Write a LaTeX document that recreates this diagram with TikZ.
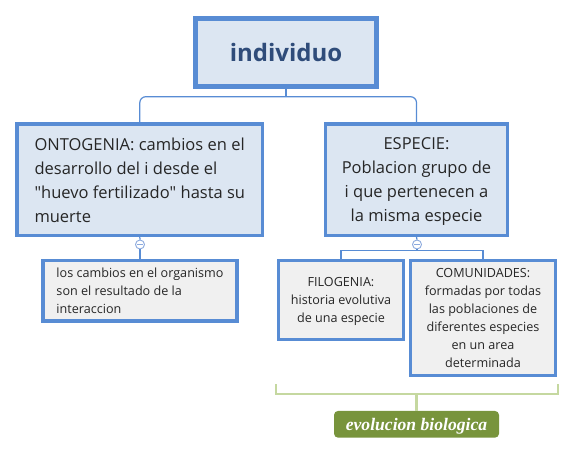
\documentclass[tikz,border=0pt]{standalone}
\usepackage{fontspec}
\setmainfont{Open Sans}
\newfontfamily\labelfont{Liberation Serif}
\definecolor{bordblue}{RGB}{88,140,212}
\definecolor{fillblue}{RGB}{220,230,242}
\definecolor{fillgrey}{RGB}{240,240,240}
\definecolor{txtdark}{RGB}{38,38,38}
\definecolor{rootblue}{RGB}{47,76,122}
\definecolor{minusblue}{RGB}{140,170,222}
\definecolor{brkgreen}{RGB}{197,216,160}
\definecolor{lblgreen}{RGB}{120,148,60}
\tikzset{
  rootbox/.style={draw=bordblue, line width=5.3pt, fill=fillblue, inner sep=0pt,
    minimum width=181.3pt, minimum height=68pt, text=rootblue, text depth=0pt,
    font=\fontsize{24}{28}\selectfont\bfseries},
  mainbox/.style={draw=bordblue, line width=3.3pt, fill=fillblue, inner sep=0pt,
    text=txtdark, text depth=0pt, font=\fontsize{16.5}{24}\selectfont},
  subbox/.style={draw=bordblue, line width=3.4pt, fill=fillgrey, inner sep=0pt,
    text=txtdark, text depth=0pt, font=\fontsize{12.6}{18}\selectfont},
  conn/.style={draw=bordblue, line width=1.2pt},
  minusnode/.style={circle, draw=minusblue, line width=0.9pt, fill=white, inner sep=0pt,
    minimum size=9pt,
    path picture={\draw[minusblue, line width=0.9pt]
      ([xshift=-2.6pt]path picture bounding box.center) --
      ([xshift=2.6pt]path picture bounding box.center);}},
  bracketline/.style={draw=brkgreen, line width=2.4pt},
  tagbox/.style={fill=lblgreen, rounded corners=4pt, inner sep=0pt,
    minimum width=165pt, minimum height=26.7pt, text=white, text depth=0pt,
    font=\fontsize{17.6}{20}\selectfont\labelfont\bfseries\itshape},
}
\begin{document}
\begin{tikzpicture}[x=1pt, y=-1pt]
\useasboundingbox (0,0) rectangle (575,454);

% nodes
\node[rootbox] (root) at (286,52.65) {individuo};
\node[mainbox, minimum width=245.7pt, minimum height=111.2pt, align=left]
  (onto) at (139.8,179.75)
  {ONTOGENIA: cambios en el\\desarrollo del i desde el\\\textquotedbl huevo fertilizado\textquotedbl{} hasta su\\muerte};
\node[mainbox, minimum width=181.7pt, minimum height=111.4pt, align=center]
  (espe) at (416.5,179.65)
  {ESPECIE:\\Poblacion grupo de\\i que pertenecen a\\la misma especie};
\node[subbox, minimum width=194pt, minimum height=60.3pt, align=left]
  (inter) at (140,290.85)
  {los cambios en el organismo\\son el resultado de la\\interaccion};
\node[subbox, minimum width=124.6pt, minimum height=78.6pt, align=center]
  (filo) at (341,300)
  {FILOGENIA:\\historia evolutiva\\de una especie};
\node[subbox, minimum width=144.6pt, minimum height=114.6pt, align=center]
  (comu) at (483,318)
  {COMUNIDADES:\\formadas por todas\\las poblaciones de\\diferentes especies\\en un area\\determinada};
\node[minusnode] (m1) at (140,244.5) {};
\node[minusnode] (m2) at (417,244.5) {};
\node[tagbox] (tag) at (416.5,424.3) {evolucion biologica};

% hub coordinates
\coordinate (hubtop) at (286,96.7);
\coordinate (hubesp) at (417,250.7);
\coordinate (brk) at (416.5,394);
\coordinate (brkl) at (275.7,384);
\coordinate (brkr) at (557.7,384);

% connectors
\draw[conn] (root.south) -- (hubtop);
\draw[conn, rounded corners=6pt] (onto.north) |- (hubtop) -| (espe.north);
\draw[conn] (onto.south) -- (m1.north);
\draw[conn] (m1.south) -- (inter.north);
\draw[conn] (espe.south) -- (m2.north);
\draw[conn] (m2.south) -- (hubesp);
\draw[conn] (filo.north) |- (hubesp) -| (comu.north);

% bracket
\draw[bracketline] (brkl) |- (brk) -| (brkr);
\draw[bracketline] (brk) -- (tag.north);
\end{tikzpicture}
\end{document}
